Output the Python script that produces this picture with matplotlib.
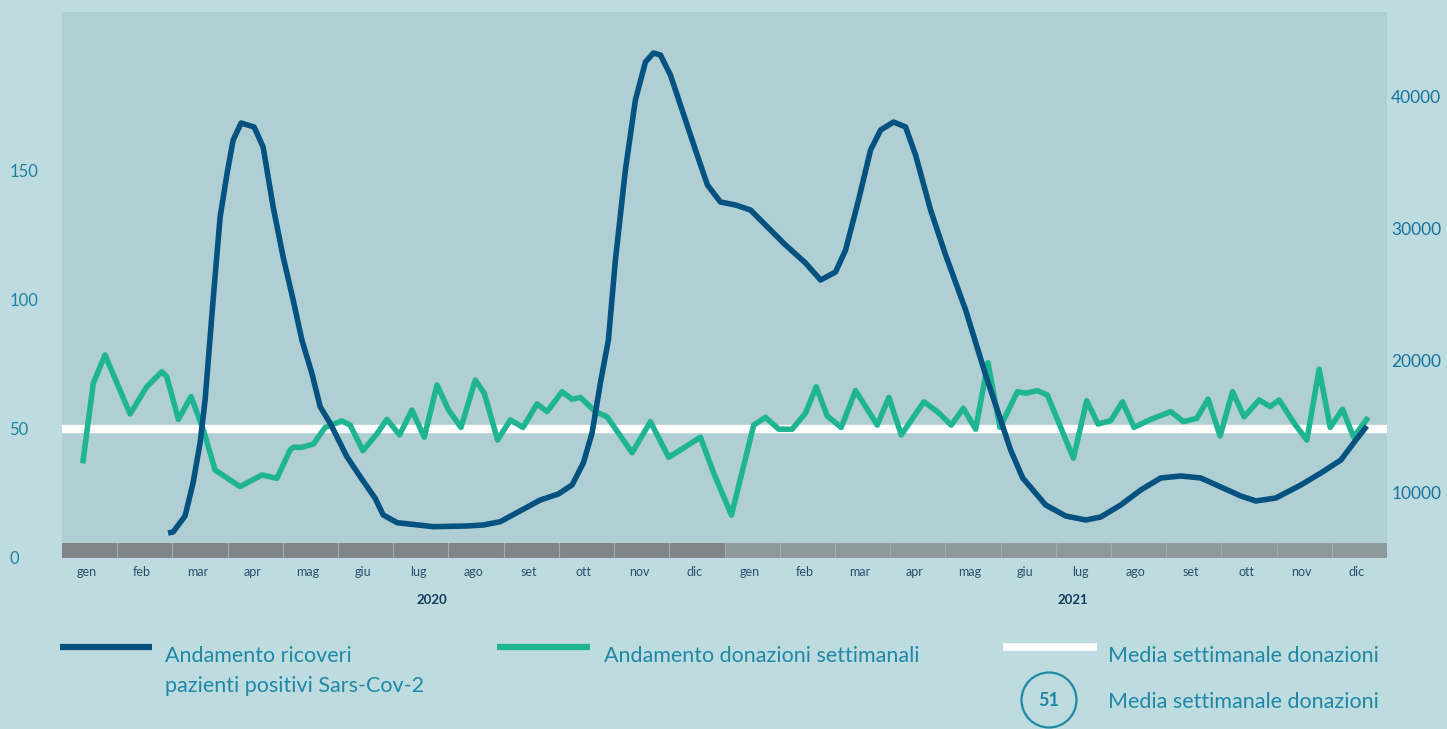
import matplotlib
matplotlib.use("Agg")
import matplotlib.pyplot as plt
from matplotlib.lines import Line2D
from matplotlib.patches import Rectangle, Circle

plt.rcParams['font.family'] = ['Lato', 'DejaVu Sans']

# ---------------- data ----------------
months = ["gen", "feb", "mar", "apr", "mag", "giu", "lug", "ago", "set", "ott", "nov", "dic"]
years = ["2020", "2021"]

# hospitalisations (right axis); time in months since 1 Jan 2020
ricoveri_t = [1.921, 2.012, 2.229, 2.374, 2.501, 2.592, 2.737, 2.864, 2.991, 3.100, 3.245, 3.480,
              3.643, 3.825, 4.006, 4.187, 4.345, 4.526, 4.676, 4.858, 5.160, 5.401, 5.673, 5.818,
              6.072, 6.725, 7.341, 7.631, 7.939, 8.664, 8.990, 9.239, 9.443, 9.601, 9.752, 9.897,
              10.024, 10.205, 10.386, 10.568, 10.713, 10.840, 11.021, 11.202, 11.474, 11.691, 11.927,
              12.199, 12.471, 12.743, 13.105, 13.468, 13.740, 14.011, 14.193, 14.428, 14.646, 14.827,
              15.063, 15.280, 15.461, 15.733, 16.005, 16.368, 16.730, 17.002, 17.183, 17.401, 17.818,
              18.180, 18.543, 18.815, 19.177, 19.540, 19.902, 20.265, 20.627, 20.990, 21.352, 21.624,
              21.986, 22.440, 22.802, 23.165, 23.437, 23.636]
ricoveri_v = [6919, 6995, 8206, 10706, 13735, 16991, 24564, 30850, 34182, 36681, 37968, 37665,
              36151, 31607, 27821, 24564, 21535, 19014, 16484, 15227, 12698, 11183, 9547, 8282,
              7700, 7397, 7450, 7525, 7775, 9418, 9873, 10555, 12221, 14492, 18279, 21535,
              27594, 34410, 39711, 42588, 43270, 43119, 41604, 39332, 35924, 33274, 31986,
              31759, 31380, 30244, 28730, 27367, 26079, 26685, 28351, 32137, 35924, 37438,
              38044, 37665, 35545, 31380, 27972, 23807, 18885, 15477, 13205, 11085, 9040,
              8206, 7903, 8131, 9040, 10176, 11085, 11236, 11085, 10403, 9721, 9343,
              9570, 10555, 11464, 12447, 13962, 15022]

# weekly donations (left axis)
donazioni_t = [0.375, 0.567, 0.779, 1.233, 1.535, 1.807, 1.898, 2.108, 2.338, 2.561, 2.773, 3.226,
               3.620, 3.892, 4.133, 4.193, 4.345, 4.555, 4.767, 5.070, 5.220, 5.450, 5.704, 5.885,
               6.114, 6.339, 6.562, 6.792, 7.002, 7.227, 7.486, 7.649, 7.890, 8.120, 8.350, 8.604,
               8.786, 9.057, 9.239, 9.389, 9.661, 9.873, 10.326, 10.658, 10.990, 11.564, 11.805,
               12.126, 12.530, 12.742, 12.983, 13.226, 13.467, 13.661, 13.861, 14.115, 14.374, 14.767,
               14.977, 15.202, 15.612, 15.855, 16.108, 16.326, 16.549, 16.772, 16.990, 17.305, 17.455,
               17.667, 17.848, 18.320, 18.561, 18.766, 18.996, 19.208, 19.418, 19.721, 20.083, 20.313,
               20.554, 20.759, 20.977, 21.202, 21.412, 21.684, 21.883, 22.047, 22.318, 22.548, 22.771,
               22.971, 23.195, 23.395, 23.660]
donazioni_v = [36.6, 67.6, 78.5, 55.7, 66.2, 72.0, 70.1, 53.6, 62.4, 49.5, 34.0, 27.6,
               32.1, 30.8, 41.8, 42.8, 42.8, 44.1, 50.5, 53.0, 51.4, 41.5, 48.0, 53.6,
               47.6, 57.2, 46.7, 66.9, 57.2, 50.5, 68.8, 63.7, 45.6, 53.4, 50.5, 59.6,
               56.6, 64.3, 61.4, 62.1, 56.6, 54.6, 40.7, 52.7, 38.9, 46.7, 32.8,
               16.6, 51.4, 54.4, 49.8, 49.8, 56.0, 66.2, 54.9, 50.5, 64.7, 51.4,
               62.1, 47.6, 60.4, 56.6, 51.4, 57.9, 49.8, 75.5, 50.5, 64.3, 63.7,
               64.7, 63.0, 38.6, 60.8, 51.8, 53.1, 60.4, 50.5, 53.6, 56.6, 52.7,
               54.0, 61.4, 47.2, 64.3, 54.6, 61.1, 58.5, 61.1, 52.1, 45.6, 73.0,
               50.5, 57.5, 46.7, 54.4]

media_linea = 50
media_label = "51"
left_ticks = [0, 50, 100, 150]
right_ticks = [10000, 20000, 30000, 40000]

# ---------------- style ----------------
FIG_BG = "#bedce0"
PLOT_BG = "#b0cfd4"
BLUE = "#03527f"
GREEN = "#20b592"
TICK_C = "#2181a5"
RTICK_C = "#17739b"
MONTH_C = "#2b4e6e"
YEAR_C = "#143a5c"
LEG_C = "#1e88a6"

W, H = 1447, 729
fig = plt.figure(figsize=(W / 100, H / 100), dpi=100, facecolor=FIG_BG)

def fx(px):
    return px / W

def fy(py):
    return 1 - py / H

ax = fig.add_axes([fx(62), fy(558), fx(1387) - fx(62), fy(12) - fy(558)])
ax.set_facecolor(PLOT_BG)
ax.set_xlim(0, 24)
ax.set_ylim(0, 211.1)
for s in ax.spines.values():
    s.set_visible(False)
ax.set_xticks([])
ax.set_yticks(left_ticks)
ax.set_yticklabels([str(t) for t in left_ticks])
ax.tick_params(axis='y', length=0, pad=38, labelsize=12, labelcolor=TICK_C)
for lab in ax.get_yticklabels():
    lab.set_horizontalalignment('left')

ax2 = ax.twinx()
ax2.set_ylim(5025, 46376)
for s in ax2.spines.values():
    s.set_visible(False)
ax2.set_yticks(right_ticks)
ax2.set_yticklabels([str(t) for t in right_ticks])
ax2.tick_params(axis='y', length=0, pad=3, labelsize=12.5, labelcolor=RTICK_C)

# month strip
xt = ax.get_xaxis_transform()
strip_h = 15 / 546
for i in range(24):
    col = "#818588" if i < 12 else "#8d999d"
    ax.add_patch(Rectangle((i, 0), 1, strip_h, transform=xt, facecolor=col,
                           edgecolor='none', zorder=1))
    if i > 0:
        ax.plot([i, i], [0, strip_h], transform=xt, color="#a3adb0", lw=0.8, zorder=1.5)
    ax.text(i + 0.45, -0.025, months[i % 12], transform=xt, ha='center', va='center',
            fontsize=9, color=MONTH_C)
ax.text(6.7, -0.077, years[0], transform=xt, ha='center', va='center',
        fontsize=9.5, fontweight='bold', color=YEAR_C)
ax.text(18.3, -0.077, years[1], transform=xt, ha='center', va='center',
        fontsize=9.5, fontweight='bold', color=YEAR_C)

# series
ax.axhline(media_linea, color='white', lw=6, zorder=2)
ax.plot(donazioni_t, donazioni_v, color=GREEN, lw=4, solid_joinstyle='round',
        solid_capstyle='butt', zorder=3)
ax2.plot(ricoveri_t, ricoveri_v, color=BLUE, lw=4, solid_joinstyle='round',
         solid_capstyle='butt', zorder=4)

# legend
def leg_line(x0, x1, y, color, lw):
    fig.add_artist(Line2D([fx(x0), fx(x1)], [fy(y), fy(y)], color=color, lw=lw,
                          solid_capstyle='butt'))

leg_line(60, 152, 647, BLUE, 4.5)
leg_line(497, 590, 647, GREEN, 4.5)
leg_line(1003, 1097, 647, 'white', 5.5)
fs = 15.5
fig.text(fx(165), fy(656), "Andamento ricoveri", fontsize=fs, color=LEG_C, va='center', ha='left')
fig.text(fx(165), fy(686), "pazienti positivi Sars-Cov-2", fontsize=fs, color=LEG_C, va='center', ha='left')
fig.text(fx(604), fy(656), "Andamento donazioni settimanali", fontsize=fs, color=LEG_C, va='center', ha='left')
fig.text(fx(1108), fy(656), "Media settimanale donazioni", fontsize=fs, color=LEG_C, va='center', ha='left')
fig.text(fx(1108), fy(702), "Media settimanale donazioni", fontsize=fs, color=LEG_C, va='center', ha='left')

circ_ax = fig.add_axes([fx(1019), fy(729), fx(1079) - fx(1019), fy(671) - fy(729)])
circ_ax.set_xlim(-30, 30)
circ_ax.set_ylim(-29, 29)
circ_ax.set_aspect('equal')
circ_ax.axis('off')
circ_ax.add_patch(Circle((0, 0), 27.5, facecolor='none', edgecolor=LEG_C, lw=1.6))
circ_ax.text(0, 0, media_label, ha='center', va='center', fontsize=13, fontweight='bold', color=LEG_C)

fig.savefig("out.png", dpi=100, facecolor=FIG_BG)
